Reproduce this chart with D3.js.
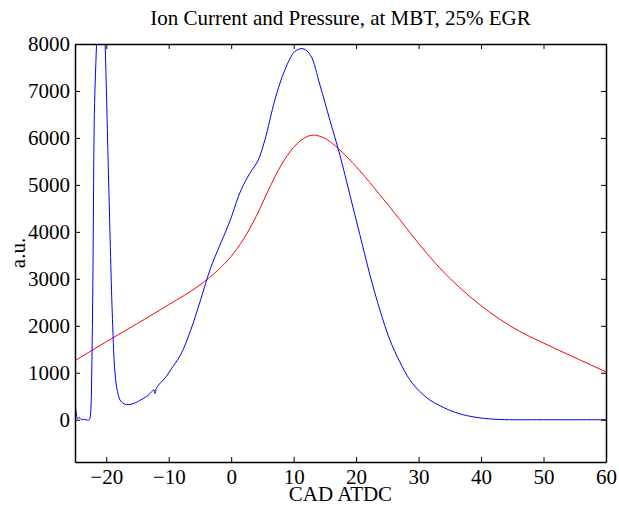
<!DOCTYPE html>
<html>
<head>
<meta charset="utf-8">
<script src="https://cdn.jsdelivr.net/npm/d3@7"></script>
<style>
body { margin: 0; background: #fff; }
text { font-family: "Liberation Serif", "Times New Roman", serif; }
</style>
</head>
<body>
<div id="chart"></div>
<script>
//Ion current (blue) samples: crank angle, value
let ionCad = [-25, -24.8, -24.6, -24.3, -24, -23.5, -23, -22.7, -22.5, -22.3, -22.1, -21.9, -21.5, -21.0, -20.6, -20.2,
	-19.6, -19.0, -18.6, -18.2, -17.7, -17.0, -16.5, -15.5, -14.5, -13.5, -12.7, -12.4, -12.2, -12.0, -11.5, -10.5,
	-9.7, -8.1, -6.5, -4.9, -3.4, -1.8, -1, 0, 0.8, 1.6, 3, 4.3, 5.4, 7, 8.6, 10.2, 11.5, 12.7, 14.2, 15.8, 17.4,
	19, 20.6, 22.2, 23.8, 25.4, 27, 28.6, 30.2, 31.8, 33.4, 35, 37, 39.8, 43, 50, 60];
let ionVal = [380, 150, 20, 50, 0, 10, -10, 0, 150, 1200, 3500, 6500, 8200, 10000, 9500, 8100,
	5000, 2130, 1000, 600, 400, 330, 320, 350, 420, 500, 600, 640, 560, 660, 760, 900,
	1060, 1380, 1900, 2550, 3190, 3720, 3970, 4300, 4620, 4900, 5250, 5520, 5960, 6810, 7450, 7840, 7900, 7760, 7130, 6380, 5640,
	4790, 3940, 3090, 2340, 1700, 1230, 850, 600, 420, 300, 200, 110, 40, 5, 0, 0];

//Pressure (red) samples
let presCad = [-25, -20, -15, -10, -5, -2, 0, 2, 4, 6, 8, 10, 12, 13.2, 15, 18.2, 20.6, 23.8, 27, 30.2, 33.4,
	36.6, 39.8, 43, 46.2, 49.4, 52.6, 55.8, 60];
let presVal = [1260, 1660, 2050, 2450, 2870, 3200, 3480, 3850, 4330, 4900, 5420, 5800, 6020, 6060, 5990, 5640, 5300, 4790,
	4260, 3720, 3230, 2810, 2450, 2140, 1880, 1670, 1470, 1275, 1020];

let xTicks = [-20, -10, 0, 10, 20, 30, 40, 50, 60];
let yTicks = [0, 1000, 2000, 3000, 4000, 5000, 6000, 7000, 8000];

//Dimensions
let width = 619;
let height = 506;
let padLeft = 75, padRight = 606, padTop = 44, padBottom = 462;

let svg = d3.select("#chart").append("svg")
	.attr("width", width)
	.attr("height", height);

let x = d3.scaleLinear().domain([-25, 60]).range([padLeft, padRight]);
let y = d3.scaleLinear().domain([-900, 8000]).range([padBottom, padTop]);

svg.append("clipPath")
	.attr("id", "plotClip")
	.append("rect")
		.attr("x", padLeft)
		.attr("y", padTop)
		.attr("width", padRight - padLeft)
		.attr("height", padBottom - padTop);

let plot = svg.append("g").attr("clip-path", "url(#plotClip)");

//Pressure curve
plot.append("path")
	.datum(presCad.map((c, i) => [c, presVal[i]]))
	.attr("fill", "none")
	.attr("stroke", "#ff0000")
	.attr("stroke-width", 1)
	.attr("d", d3.line().x(d => x(d[0])).y(d => y(d[1])).curve(d3.curveMonotoneX));

//Ion current curve
plot.append("path")
	.datum(ionCad.map((c, i) => [c, ionVal[i]]))
	.attr("fill", "none")
	.attr("stroke", "#0000ff")
	.attr("stroke-width", 1)
	.attr("d", d3.line().x(d => x(d[0])).y(d => y(d[1])).curve(d3.curveCatmullRom));

//Axes, ticks pointing inward on all four sides
let fmt = d => d < 0 ? "\u2212" + Math.abs(d) : String(d);

svg.append("g")
	.attr("transform", "translate(0," + padBottom + ")")
	.call(d3.axisBottom(x).tickValues(xTicks).tickSizeInner(-5).tickSizeOuter(0).tickPadding(7).tickFormat(fmt));
svg.append("g")
	.attr("transform", "translate(0," + padTop + ")")
	.call(d3.axisTop(x).tickValues(xTicks).tickSizeInner(-5).tickSizeOuter(0).tickFormat(""));
svg.append("g")
	.attr("transform", "translate(" + padLeft + ",0)")
	.call(d3.axisLeft(y).tickValues(yTicks).tickSizeInner(-5).tickSizeOuter(0).tickPadding(5).tickFormat(fmt));
svg.append("g")
	.attr("transform", "translate(" + padRight + ",0)")
	.call(d3.axisRight(y).tickValues(yTicks).tickSizeInner(-5).tickSizeOuter(0).tickFormat(""));

svg.selectAll(".domain").attr("stroke", "#000").attr("stroke-width", 1.5);
svg.selectAll(".tick line").attr("stroke", "#000");
svg.selectAll(".tick text")
	.attr("fill", "#000")
	.style("font-size", "21px")
	.style("font-family", "'Liberation Serif', serif");

//Titles
svg.append("text")
	.attr("x", (padLeft + padRight) / 2)
	.attr("y", 25)
	.attr("text-anchor", "middle")
	.style("font-size", "21px")
	.text("Ion Current and Pressure, at MBT, 25% EGR");

svg.append("text")
	.attr("x", (padLeft + padRight) / 2)
	.attr("y", 501)
	.attr("text-anchor", "middle")
	.style("font-size", "21px")
	.text("CAD ATDC");

svg.append("text")
	.attr("transform", "translate(25," + (padTop + padBottom) / 2 + ") rotate(-90)")
	.attr("text-anchor", "middle")
	.style("font-size", "21px")
	.text("a.u.");
</script>
</body>
</html>
